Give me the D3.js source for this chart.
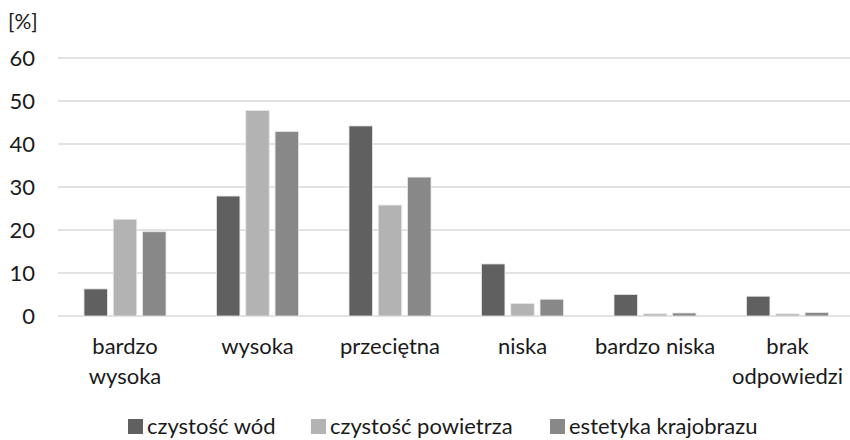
<!DOCTYPE html>
<html><head><meta charset="utf-8">
<script src="https://cdn.jsdelivr.net/npm/d3@7"></script>
<style>body{margin:0;background:#fff}svg{display:block}</style>
</head><body>
<svg id="c" width="850" height="440"></svg>
<script>
const categories = [["bardzo","wysoka"],["wysoka"],["przeciętna"],["niska"],["bardzo niska"],["brak","odpowiedzi"]];
const seriesNames = ["czystość wód","czystość powietrza","estetyka krajobrazu"];
const czystoscWod = [6.3, 27.9, 44.2, 12.1, 5.0, 4.6];
const czystoscPowietrza = [22.5, 47.8, 25.8, 2.9, 0.5, 0.5];
const estetykaKrajobrazu = [19.6, 42.9, 32.3, 3.9, 0.7, 0.8];
const yTicks = [0,10,20,30,40,50,60];
const colors = ["#606060","#b3b3b3","#888888"];
const series = [czystoscWod, czystoscPowietrza, estetykaKrajobrazu];

const font = "Lato, 'Open Sans', sans-serif";
const fs = 22;
const svg = d3.select("#c");
const x0 = d3.scaleBand().domain(d3.range(categories.length)).range([58.75, 853.75]);
const x1 = d3.scaleBand().domain(d3.range(series.length)).range([0, 82]).paddingInner(0.2);
const y = d3.scaleLinear().domain([0,60]).range([316,58]);

// gridlines
svg.append("g").selectAll("line").data(yTicks).join("line")
  .attr("x1",58).attr("x2",850).attr("y1",d=>y(d)).attr("y2",d=>y(d))
  .attr("stroke","#d9d9d9").attr("stroke-width",1.5);

// y axis labels
const ya = svg.append("g").attr("transform","translate(35,0)")
  .call(d3.axisLeft(y).tickValues(yTicks).tickSize(0).tickPadding(0));
ya.select(".domain").remove();
ya.selectAll("text").attr("font-family",font).attr("font-size",fs).attr("fill","#1a1a1a").attr("dy","0.36em");

svg.append("text").attr("x",8).attr("y",29).text("[%]")
  .attr("font-family",font).attr("font-size",21).attr("fill","#1a1a1a");

// bars
const g = svg.append("g");
series.forEach((s,si)=>{
  g.append("g").selectAll("rect").data(s).join("rect")
    .attr("x",(d,i)=>x0(i)+x0.bandwidth()/2-41+x1(si))
    .attr("width",x1.bandwidth())
    .attr("y",d=>y(d)).attr("height",d=>y(0)-y(d))
    .attr("fill",colors[si]).attr("stroke","#e6e6e6").attr("stroke-width",0.8);
});

// category labels
const xl = svg.append("g");
categories.forEach((lines,i)=>{
  const t = xl.append("text").attr("text-anchor","middle")
    .attr("font-family",font).attr("font-size",fs).attr("fill","#1a1a1a");
  lines.forEach((ln,k)=>{
    t.append("tspan").attr("x",x0(i)+x0.bandwidth()/2).attr("y",354+k*29.5).text(ln);
  });
});

// legend
const legX = [128, 311, 550];
const leg = svg.append("g");
seriesNames.forEach((n,i)=>{
  leg.append("rect").attr("x",legX[i]).attr("y",419).attr("width",15).attr("height",15).attr("fill",colors[i]);
  leg.append("text").attr("x",legX[i]+19).attr("y",434).text(n)
    .attr("font-family",font).attr("font-size",fs).attr("fill","#1a1a1a");
});
</script>
</body></html>
